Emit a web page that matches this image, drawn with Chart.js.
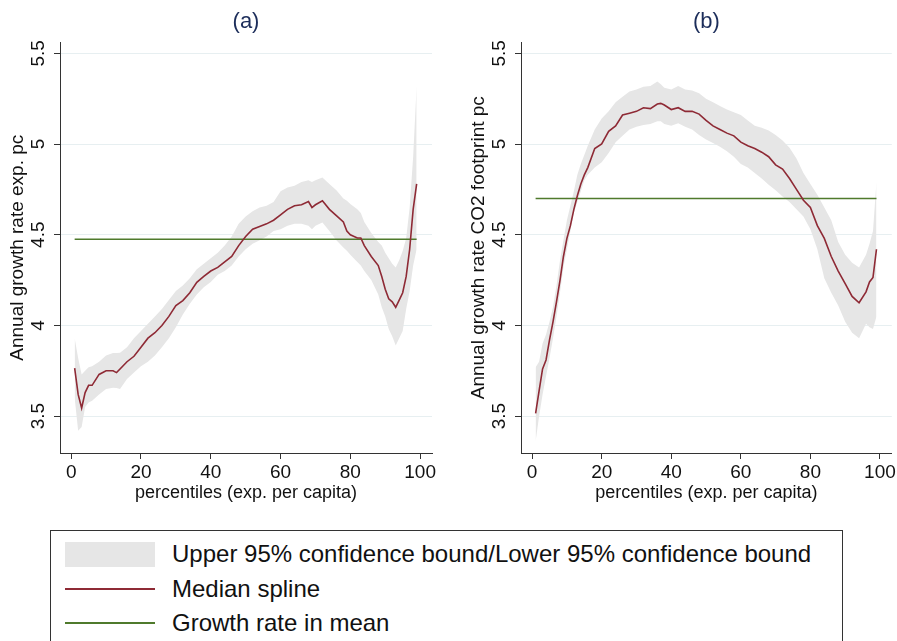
<!DOCTYPE html>
<html>
<head>
<meta charset="utf-8">
<script src="https://cdn.jsdelivr.net/npm/chart.js@4/dist/chart.umd.min.js"></script>
<style>
  body { margin: 0; width: 897px; height: 641px; overflow: hidden; background: #fff; font-family: "Liberation Sans", Arial, sans-serif; }
  .panel { position: absolute; top: 0; }
  #legend { position: absolute; left: 50px; top: 530px; width: 793px; height: 130px; border: 1px solid #333; box-sizing: border-box; }
  .row { position: absolute; left: 0; height: 30px; font-size: 24px; line-height: 30px; color: #111; }
  .row span.sw { position: absolute; left: 14px; width: 90px; }
  .row span.tx { position: absolute; left: 121px; white-space: nowrap; }
</style>
</head>
<body>
<div class="panel" style="left:0"><canvas id="chartA" width="440" height="505"></canvas></div>
<div class="panel" style="left:461px"><canvas id="chartB" width="437" height="505"></canvas></div>
<div id="legend">
  <div class="row" style="top:8px"><span class="sw" style="top:3px;height:25px;background:#e6e6e6"></span><span class="tx">Upper 95% confidence bound/Lower 95% confidence bound</span></div>
  <div class="row" style="top:43px"><span class="sw" style="top:14px;height:2px;background:#8e2a35"></span><span class="tx">Median spline</span></div>
  <div class="row" style="top:77px"><span class="sw" style="top:14px;height:2px;background:#4f7a2c"></span><span class="tx">Growth rate in mean</span></div>
</div>
<script>
// axis ticks
const xTicks = [0, 20, 40, 60, 80, 100]
const yTicks = [3.5, 4, 4.5, 5, 5.5]

// (a) expenditure per capita
const pctA = [1, 2, 3, 4, 5, 6, 8, 10, 12, 13, 14, 16, 18, 20, 22, 24, 26, 28, 30, 32, 34, 36, 38, 40, 42, 44, 46, 48, 50, 52, 54, 56, 58, 60, 62, 64, 66, 68, 69, 70, 72, 74, 76, 78, 79, 80, 82, 83, 84, 86, 88, 89, 90, 91, 92, 93, 94, 95, 96, 97, 98, 99]
const medianA = [3.765, 3.62, 3.545, 3.63, 3.67, 3.67, 3.73, 3.75, 3.75, 3.74, 3.76, 3.80, 3.83, 3.88, 3.93, 3.96, 4.00, 4.05, 4.11, 4.137, 4.18, 4.238, 4.27, 4.30, 4.32, 4.35, 4.38, 4.44, 4.49, 4.53, 4.545, 4.56, 4.58, 4.61, 4.64, 4.66, 4.665, 4.683, 4.65, 4.665, 4.687, 4.64, 4.605, 4.57, 4.52, 4.50, 4.482, 4.482, 4.44, 4.38, 4.33, 4.27, 4.20, 4.147, 4.13, 4.10, 4.14, 4.18, 4.27, 4.42, 4.64, 4.78]
const upperA = [3.93, 3.82, 3.73, 3.75, 3.77, 3.775, 3.80, 3.835, 3.848, 3.848, 3.85, 3.88, 3.93, 3.97, 4.01, 4.05, 4.09, 4.14, 4.19, 4.22, 4.26, 4.31, 4.34, 4.37, 4.40, 4.44, 4.49, 4.56, 4.60, 4.63, 4.65, 4.66, 4.68, 4.74, 4.76, 4.77, 4.79, 4.80, 4.79, 4.80, 4.815, 4.78, 4.745, 4.70, 4.687, 4.67, 4.64, 4.62, 4.57, 4.51, 4.46, 4.44, 4.40, 4.37, 4.34, 4.32, 4.36, 4.41, 4.48, 4.65, 4.93, 5.32]
const lowerA = [3.60, 3.42, 3.44, 3.55, 3.575, 3.585, 3.62, 3.65, 3.657, 3.655, 3.65, 3.705, 3.74, 3.775, 3.80, 3.835, 3.88, 3.93, 3.99, 4.06, 4.12, 4.17, 4.21, 4.24, 4.28, 4.30, 4.33, 4.38, 4.42, 4.45, 4.47, 4.49, 4.52, 4.53, 4.55, 4.56, 4.56, 4.55, 4.53, 4.55, 4.567, 4.52, 4.47, 4.43, 4.412, 4.39, 4.35, 4.33, 4.30, 4.25, 4.17, 4.10, 4.05, 3.98, 3.94, 3.89, 3.93, 3.97, 4.09, 4.19, 4.33, 4.42]
const meanA = 4.475

// (b) CO2 footprint per capita
const pctB = [1, 2, 3, 4, 5, 6, 7, 8, 9, 10, 11, 12, 13, 14, 15, 16, 18, 20, 22, 24, 26, 28, 30, 32, 34, 36, 37, 38, 40, 42, 44, 46, 48, 50, 52, 54, 56, 58, 60, 62, 64, 66, 68, 70, 72, 74, 76, 78, 80, 82, 84, 86, 88, 90, 92, 94, 96, 97, 98, 99]
const medianB = [3.515, 3.64, 3.76, 3.81, 3.92, 4.02, 4.13, 4.247, 4.38, 4.48, 4.55, 4.64, 4.715, 4.78, 4.83, 4.87, 4.975, 5.00, 5.07, 5.10, 5.16, 5.17, 5.18, 5.20, 5.195, 5.22, 5.224, 5.215, 5.19, 5.20, 5.18, 5.18, 5.165, 5.13, 5.10, 5.08, 5.06, 5.045, 5.01, 4.99, 4.975, 4.955, 4.93, 4.885, 4.862, 4.81, 4.75, 4.69, 4.65, 4.55, 4.48, 4.38, 4.30, 4.23, 4.16, 4.125, 4.185, 4.24, 4.265, 4.42]
const upperB = [3.77, 3.80, 3.90, 3.95, 4.02, 4.10, 4.22, 4.357, 4.47, 4.58, 4.66, 4.74, 4.83, 4.89, 4.94, 4.99, 5.08, 5.14, 5.18, 5.23, 5.26, 5.29, 5.30, 5.315, 5.32, 5.345, 5.33, 5.31, 5.30, 5.32, 5.30, 5.295, 5.28, 5.25, 5.23, 5.21, 5.19, 5.175, 5.16, 5.13, 5.10, 5.09, 5.075, 5.05, 5.02, 4.98, 4.92, 4.84, 4.78, 4.72, 4.65, 4.58, 4.46, 4.39, 4.345, 4.32, 4.39, 4.45, 4.52, 4.79]
const lowerB = [3.36, 3.50, 3.62, 3.72, 3.82, 3.93, 4.05, 4.18, 4.32, 4.42, 4.52, 4.62, 4.68, 4.74, 4.80, 4.83, 4.87, 4.90, 4.95, 5.01, 5.045, 5.08, 5.095, 5.105, 5.11, 5.125, 5.126, 5.11, 5.10, 5.115, 5.095, 5.08, 5.05, 5.025, 5.005, 4.985, 4.96, 4.93, 4.89, 4.87, 4.84, 4.81, 4.775, 4.745, 4.71, 4.68, 4.64, 4.60, 4.53, 4.42, 4.26, 4.18, 4.11, 4.02, 3.96, 3.93, 4.01, 3.99, 3.98, 4.05]
const meanB = 4.70

const FONT = '"Liberation Sans", Arial, sans-serif'
const BAND = '#e6e6e6'
const RED = '#8e2a35'
const GREEN = '#4f7a2c'

function pts (xs, ys) {
  return xs.map((x, i) => ({ x: x, y: ys[i] }))
}

function makeChart (id, title, yTitle, pct, median, upper, lower, mean) {
  const ctx = document.getElementById(id).getContext('2d')
  return new Chart(ctx, {
    type: 'line',
    data: {
      datasets: [
        { data: pts(pct, median), borderColor: RED, borderWidth: 1.6, pointRadius: 0, fill: false },
        { data: [{ x: pct[0], y: mean }, { x: pct[pct.length - 1], y: mean }], borderColor: GREEN, borderWidth: 1.6, pointRadius: 0, fill: false },
        { data: pts(pct, upper), borderWidth: 0, borderColor: BAND, backgroundColor: BAND, pointRadius: 0, fill: '+1' },
        { data: pts(pct, lower), borderWidth: 0, borderColor: BAND, pointRadius: 0, fill: false }
      ]
    },
    options: {
      responsive: false,
      animation: false,
      layout: { padding: { left: 0, right: id === 'chartA' ? 8 : 5, top: 0, bottom: 0 } },
      plugins: {
        legend: { display: false },
        tooltip: { enabled: false },
        title: {
          display: true,
          text: title,
          fullSize: false,
          color: '#1c2d5a',
          font: { family: FONT, size: 22, weight: 'normal' },
          padding: { top: 9, bottom: 7 }
        }
      },
      scales: {
        x: {
          type: 'linear',
          min: -3.2,
          max: 103.4,
          afterBuildTicks: s => { s.ticks = xTicks.map(v => ({ value: v })) },
          afterFit: s => { s.height = 52 },
          ticks: { color: '#111', font: { family: FONT, size: 19 }, padding: 2, maxRotation: 0 },
          grid: { drawOnChartArea: false, tickLength: 6, tickColor: '#333' },
          border: { color: '#333', width: 1 },
          title: { display: true, text: 'percentiles (exp. per capita)', color: '#111', font: { family: FONT, size: 18 }, padding: { top: 0, bottom: 1 } }
        },
        y: {
          type: 'linear',
          min: 3.297,
          max: 5.56,
          afterBuildTicks: s => { s.ticks = yTicks.map(v => ({ value: v })) },
          afterFit: s => { s.width = 60 },
          ticks: {
            color: '#111',
            font: { family: FONT, size: 19 },
            minRotation: 90,
            maxRotation: 90,
            crossAlign: 'center',
            padding: 2,
            callback: v => String(v)
          },
          grid: { color: '#e7eff1', tickLength: 6, tickColor: '#333' },
          border: { color: '#333', width: 1 },
          title: { display: true, text: yTitle, color: '#111', font: { family: FONT, size: 19 }, padding: { top: 6 } }
        }
      }
    }
  })
}

makeChart('chartA', '(a)', 'Annual growth rate exp. pc', pctA, medianA, upperA, lowerA, meanA)
makeChart('chartB', '(b)', 'Annual growth rate CO2 footprint pc', pctB, medianB, upperB, lowerB, meanB)
</script>
</body>
</html>
